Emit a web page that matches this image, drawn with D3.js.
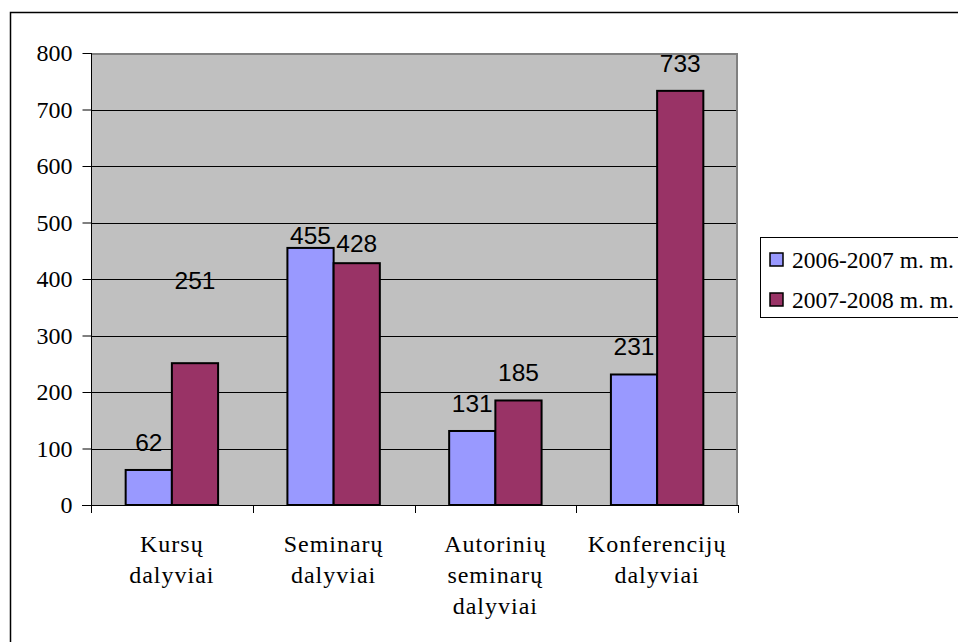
<!DOCTYPE html>
<html>
<head>
<meta charset="utf-8">
<script src="https://cdn.jsdelivr.net/npm/d3@7"></script>
<style>
  body { margin: 0; background: #fff; }
  svg { display: block; }
</style>
</head>
<body>
<div class="chart"></div>
<script>
// Chart data
var categories = [
    ["Kursų", "dalyviai"],
    ["Seminarų", "dalyviai"],
    ["Autorinių", "seminarų", "dalyviai"],
    ["Konferencijų", "dalyviai"]
];
var seriesNames = ["2006-2007 m. m.", "2007-2008 m. m."];
var values2006 = [62, 455, 131, 231];
var values2008 = [251, 428, 185, 733];
var yTicks = [0, 100, 200, 300, 400, 500, 600, 700, 800];

var colors = ["#9999FF", "#993366"];
var series = [values2006, values2008];

// label nudges, key = category-series (labels moved by hand in the original)
var labelNudge = { "0-1": -55, "1-0": 15, "1-1": 8 };

var width = 958, height = 642;
var plot = { left: 91, top: 53, right: 738, bottom: 505 };

var svg = d3.select('.chart').append('svg')
    .attr('width', width)
    .attr('height', height);

// outer frame (cut off by the window on right and bottom)
svg.append('rect')
    .attr('x', 10.5).attr('y', 12.5)
    .attr('width', 1000).attr('height', 700)
    .attr('fill', 'none')
    .attr('stroke', '#000')
    .attr('stroke-width', 1.5);

var x0 = d3.scaleBand()
    .domain(d3.range(categories.length))
    .range([plot.left, plot.right])
    .paddingInner(3 / 7)
    .paddingOuter(1.5 / 7);

var x1 = d3.scaleBand()
    .domain(d3.range(series.length))
    .range([0, x0.bandwidth()]);

var y = d3.scaleLinear()
    .domain([0, 800])
    .range([plot.bottom, plot.top]);

// plot background
svg.append('rect')
    .attr('x', plot.left).attr('y', plot.top)
    .attr('width', plot.right - plot.left)
    .attr('height', plot.bottom - plot.top)
    .attr('fill', '#C0C0C0');

// gridlines
svg.append('g')
    .selectAll('line')
    .data(yTicks.filter(function(d) { return d > 0 && d < 800; }))
    .enter().append('line')
    .attr('x1', plot.left).attr('x2', plot.right)
    .attr('y1', function(d) { return Math.round(y(d)) + 0.5; })
    .attr('y2', function(d) { return Math.round(y(d)) + 0.5; })
    .attr('stroke', '#000')
    .attr('stroke-width', 1);

// top / right gray border
svg.append('path')
    .attr('d', 'M' + plot.left + ',' + (plot.top + 1) + 'H' + (plot.right - 1) + 'V' + plot.bottom)
    .attr('fill', 'none')
    .attr('stroke', '#808080')
    .attr('stroke-width', 2);

// bars
var groups = svg.append('g')
    .selectAll('g')
    .data(series)
    .enter().append('g')
    .attr('fill', function(d, i) { return colors[i]; });

groups.selectAll('rect')
    .data(function(d, si) { return d.map(function(v, ci) { return { v: v, ci: ci, si: si }; }); })
    .enter().append('rect')
    .attr('x', function(d) { return x0(d.ci) + x1(d.si); })
    .attr('y', function(d) { return y(d.v); })
    .attr('width', x1.bandwidth())
    .attr('height', function(d) { return y(0) - y(d.v); })
    .attr('stroke', '#000')
    .attr('stroke-width', 2);

// data labels
groups.selectAll('text')
    .data(function(d, si) { return d.map(function(v, ci) { return { v: v, ci: ci, si: si }; }); })
    .enter().append('text')
    .attr('x', function(d) { return x0(d.ci) + x1(d.si) + x1.bandwidth() / 2; })
    .attr('y', function(d) {
        var n = labelNudge[d.ci + '-' + d.si] || 0;
        return y(d.v) - 19 + n;
    })
    .attr('text-anchor', 'middle')
    .attr('fill', '#000')
    .style('font-family', '"Liberation Sans", Arial, sans-serif')
    .style('font-size', '24.5px')
    .text(function(d) { return d.v; });

// y axis
var yAxis = d3.axisLeft(y)
    .tickValues(yTicks)
    .tickSize(9)
    .tickPadding(10);

var gy = svg.append('g')
    .attr('transform', 'translate(' + (plot.left + 0.5) + ',0)')
    .attr('font-family', null)
    .call(yAxis);
gy.select('.domain').attr('stroke', '#000').attr('d', 'M0,' + plot.top + 'V' + (plot.bottom + 8));
gy.selectAll('.tick line').attr('stroke', '#000');
gy.selectAll('.tick text')
    .style('font-family', '"Liberation Serif", "Times New Roman", serif')
    .style('font-size', '24px')
    .attr('fill', '#000');

// x axis line and category boundary ticks
var step = x0.step();
var bounds = d3.range(categories.length + 1).map(function(i) { return plot.left + i * step; });
svg.append('line')
    .attr('x1', plot.left - 9).attr('x2', plot.right)
    .attr('y1', plot.bottom + 0.5).attr('y2', plot.bottom + 0.5)
    .attr('stroke', '#000');
svg.append('g')
    .selectAll('line')
    .data(bounds)
    .enter().append('line')
    .attr('x1', function(d) { return Math.round(d) + 0.5; })
    .attr('x2', function(d) { return Math.round(d) + 0.5; })
    .attr('y1', plot.bottom).attr('y2', plot.bottom + 8)
    .attr('stroke', '#000');

// category labels
var catLabels = svg.append('g')
    .selectAll('text')
    .data(categories)
    .enter().append('text')
    .attr('text-anchor', 'middle')
    .attr('fill', '#000')
    .style('font-family', '"Liberation Serif", "Times New Roman", serif')
    .style('font-size', '24px')
    .style('letter-spacing', '1px');

catLabels.selectAll('tspan')
    .data(function(d, i) { return d.map(function(t) { return { t: t, i: i }; }); })
    .enter().append('tspan')
    .attr('x', function(d) { return x0(d.i) + x0.bandwidth() / 2; })
    .attr('y', function(d, j) { return 552 + j * 31; })
    .text(function(d) { return d.t; });

// legend
var legend = svg.append('g');
legend.append('rect')
    .attr('x', 760.5).attr('y', 237.5)
    .attr('width', 300).attr('height', 80)
    .attr('fill', '#fff')
    .attr('stroke', '#000')
    .attr('stroke-width', 1);

var items = legend.selectAll('g')
    .data(seriesNames)
    .enter().append('g')
    .attr('transform', function(d, i) { return 'translate(0,' + (i * 40) + ')'; });

items.append('rect')
    .attr('x', 770).attr('y', 253)
    .attr('width', 13).attr('height', 13)
    .attr('fill', function(d, i) { return colors[i]; })
    .attr('stroke', '#000')
    .attr('stroke-width', 1.5);

items.append('text')
    .attr('x', 792).attr('y', 268)
    .attr('fill', '#000')
    .style('font-family', '"Liberation Serif", "Times New Roman", serif')
    .style('font-size', '23.5px')
    .text(function(d) { return d; });
</script>
</body>
</html>
